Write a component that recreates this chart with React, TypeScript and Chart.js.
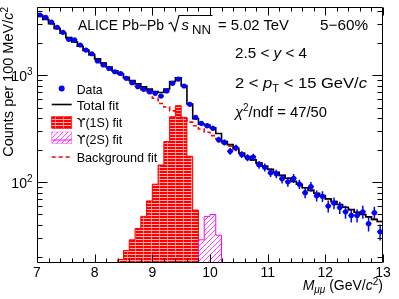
import React, { useEffect, useRef } from 'react';
import { Chart, registerables } from 'chart.js';

Chart.register(...registerables);

// ---------------- data ----------------
const BIN_WIDTH = 0.1;
const X_MIN = 7;
const X_MAX = 13;
const Y_MIN = 17.6;
const Y_MAX = 4350;

// dimuon mass bin centres (GeV/c^2), 7.05 ... 12.95
const MASS_BINS = Array.from({ length: 60 }, (_, i) => Math.round((7.05 + BIN_WIDTH * i) * 100) / 100);

const DATA_COUNTS = [
  3660, 3480, 3150, 2810, 2520, 2170, 2140, 1920, 1720, 1590,
  1360, 1250, 1160, 1080, 1040, 937, 853, 782, 740, 703,
  679, 640, 715, 842, 923, 794, 535, 404, 356, 338,
  320, 250, 236, 195, 210, 182, 170, 172, 146, 138,
  123, 120, 108, 101, 109, 96, 80, 91, 75, 74,
  60, 64, 58, 53, 49, 49, 53, 41, 52, 34.5,
];

const DATA_ERRORS = [
  60, 59, 56, 53, 50, 47, 46, 44, 41, 40,
  37, 35, 34, 33, 32, 31, 29, 28, 27, 27,
  26, 25, 27, 29, 30, 28, 23, 20, 19, 18,
  18, 16, 15, 14, 14.5, 13.5, 13, 13, 12, 11.7,
  11, 11, 10.4, 10, 10.4, 9.8, 8.9, 9.5, 8.7, 8.6,
  7.7, 8, 7.6, 7.3, 7, 7, 7.3, 6.4, 7.2, 5.9,
];

const BACKGROUND_FIT = [
  3620, 3330, 3030, 2740, 2480, 2250, 2050, 1870, 1710, 1560,
  1425, 1300, 1195, 1100, 1015, 935, 862, 794, 732, 675,
  610, 545, 505, 465, 430, 395, 365, 338, 315, 294,
  273, 254, 235, 217, 202, 187, 174, 162, 151, 141,
  132, 124, 116, 109, 102, 96, 89, 84, 79, 75,
  70, 66, 62, 58.5, 55.5, 52.5, 50, 47.5, 45, 43,
];

const TOTAL_FIT = [
  3620, 3330, 3030, 2740, 2480, 2250, 2050, 1870, 1710, 1560,
  1425, 1300, 1195, 1100, 1034, 958, 891, 831, 780, 742,
  706, 690, 745, 875, 950, 800, 540, 393, 350, 342,
  323, 286, 240, 225, 208, 187, 174, 162, 151, 141,
  132, 124, 116, 109, 102, 96, 89, 84, 79, 75,
  70, 66, 62, 58.5, 55.5, 52.5, 50, 47.5, 45, 43,
];

const UPS1S_BINS = [8.45, 8.55, 8.65, 8.75, 8.85, 8.95, 9.05, 9.15, 9.25, 9.35, 9.45, 9.55, 9.65, 9.75];
const UPS1S_COUNTS = [19, 23, 29, 37, 48, 67, 96, 145, 240, 410, 520, 405, 175, 55];

const UPS2S_BINS = [9.85, 9.95, 10.05, 10.15];
const UPS2S_COUNTS = [29, 48, 50, 32];

const X_TICKS = [7, 8, 9, 10, 11, 12, 13];
const X_MINOR_STEP = 0.2;
const Y_DECADES = [100, 1000];
const Y_DECADE_EXP = ['2', '3'];

const BLUE = '#0000ff';
const RED = '#ff0000';
const MAGENTA = '#ff00ff';
const FONT = '"Liberation Sans", Arial, Helvetica, sans-serif';
const GREEK_FONT = '"DejaVu Sans", "Liberation Sans", sans-serif';

function stepPoints(centers: number[], values: number[], closed: boolean) {
  const half = BIN_WIDTH / 2;
  const pts: { x: number; y: number }[] = [];
  if (closed) pts.push({ x: centers[0] - half, y: Y_MIN });
  centers.forEach((c, i) => pts.push({ x: c - half, y: values[i] }));
  const last = centers.length - 1;
  pts.push({ x: centers[last] + half, y: values[last] });
  if (closed) pts.push({ x: centers[last] + half, y: Y_MIN });
  return pts;
}

function makeGridPattern(ctx: CanvasRenderingContext2D) {
  const c = document.createElement('canvas');
  c.width = 8;
  c.height = 3;
  const g = c.getContext('2d')!;
  g.fillStyle = RED;
  g.fillRect(0, 0, 8, 3);
  g.fillStyle = 'rgba(255,255,255,0.7)';
  g.fillRect(0, 2, 8, 1);
  g.fillStyle = 'rgba(255,255,255,0.45)';
  g.fillRect(7, 0, 1, 2);
  return ctx.createPattern(c, 'repeat')!;
}

function makeHatchPattern(ctx: CanvasRenderingContext2D) {
  const c = document.createElement('canvas');
  c.width = 5;
  c.height = 5;
  const g = c.getContext('2d')!;
  g.strokeStyle = 'rgba(255,0,255,0.8)';
  g.lineWidth = 0.9;
  g.beginPath();
  g.moveTo(0, 5); g.lineTo(5, 0);
  g.moveTo(-1, 1); g.lineTo(1, -1);
  g.moveTo(4, 6); g.lineTo(6, 4);
  g.stroke();
  return ctx.createPattern(c, 'repeat')!;
}

const errorBarPlugin = {
  id: 'errorBars',
  beforeDatasetDraw(chart: any, args: any) {
    if (args.index !== 0) return;
    const { ctx, scales } = chart;
    const xs = scales.x, ys = scales.y;
    ctx.save();
    ctx.strokeStyle = BLUE;
    ctx.lineWidth = 1.5;
    MASS_BINS.forEach((m, i) => {
      const v = DATA_COUNTS[i], e = DATA_ERRORS[i];
      const px = xs.getPixelForValue(m);
      const py = ys.getPixelForValue(v);
      ctx.beginPath();
      ctx.moveTo(px, ys.getPixelForValue(v - e));
      ctx.lineTo(px, ys.getPixelForValue(v + e));
      ctx.moveTo(xs.getPixelForValue(m - BIN_WIDTH / 2), py);
      ctx.lineTo(xs.getPixelForValue(m + BIN_WIDTH / 2), py);
      ctx.stroke();
    });
    ctx.restore();
  },
};

const framePlugin = {
  id: 'frame',
  afterDatasetsDraw(chart: any) {
    const { ctx, chartArea: a, scales } = chart;
    const xs = scales.x, ys = scales.y;
    const L = a.left + 0.5, R = a.right - 0.5, T = a.top + 0.5, B = a.bottom - 0.5;
    ctx.save();
    ctx.strokeStyle = '#000';
    ctx.lineWidth = 1;
    ctx.beginPath();
    ctx.rect(L, T, R - L, B - T);
    const nx = Math.round((X_MAX - X_MIN) / X_MINOR_STEP);
    for (let k = 0; k <= nx; k++) {
      const v = X_MIN + k * X_MINOR_STEP;
      const px = Math.round(xs.getPixelForValue(v)) + 0.5;
      const len = k % 5 === 0 ? 8 : 4;
      ctx.moveTo(px, B); ctx.lineTo(px, B - len);
      ctx.moveTo(px, T); ctx.lineTo(px, T + len);
    }
    const yt: { v: number; major: boolean }[] = [];
    [10, 100, 1000].forEach((d) => {
      for (let k = 1; k <= 9; k++) {
        const v = k * d;
        if (v >= Y_MIN && v <= Y_MAX) yt.push({ v, major: k === 1 });
      }
    });
    yt.forEach(({ v, major }) => {
      const py = Math.round(ys.getPixelForValue(v)) + 0.5;
      const len = major ? 10 : 5;
      ctx.moveTo(L, py); ctx.lineTo(L + len, py);
      ctx.moveTo(R, py); ctx.lineTo(R - len, py);
    });
    ctx.stroke();

    ctx.fillStyle = '#000';
    ctx.font = `14px ${FONT}`;
    ctx.textAlign = 'center';
    ctx.textBaseline = 'alphabetic';
    X_TICKS.forEach((v) => {
      ctx.fillText(String(v), xs.getPixelForValue(v), a.bottom + 14);
    });
    Y_DECADES.forEach((v, i) => {
      const py = ys.getPixelForValue(v);
      ctx.font = `10px ${FONT}`;
      const ws = ctx.measureText(Y_DECADE_EXP[i]).width;
      const supX = a.left - 4.5 - ws;
      ctx.textAlign = 'left';
      ctx.fillText(Y_DECADE_EXP[i], supX, py - 0.5);
      ctx.font = `14px ${FONT}`;
      ctx.textAlign = 'right';
      ctx.fillText('10', supX, py + 6);
    });
    ctx.restore();
  },
};

export default function App() {
  const ref = useRef<HTMLCanvasElement>(null);

  useEffect(() => {
    const canvas = ref.current!;
    const ctx = canvas.getContext('2d')!;
    const grid = makeGridPattern(ctx);
    const hatch = makeHatchPattern(ctx);

    const chart = new Chart(ctx, {
      type: 'line',
      data: {
        datasets: [
          {
            label: 'Data',
            data: MASS_BINS.map((m, i) => ({ x: m, y: DATA_COUNTS[i] })),
            showLine: false,
            pointRadius: 2.6,
            pointBackgroundColor: BLUE,
            pointBorderWidth: 0,
            order: 0,
          } as any,
          {
            label: 'Total fit',
            data: stepPoints(MASS_BINS, TOTAL_FIT, false),
            borderColor: '#000',
            borderWidth: 1.6,
            stepped: 'before',
            pointRadius: 0,
            fill: false,
            order: 1,
          },
          {
            label: 'Background fit',
            data: stepPoints(MASS_BINS, BACKGROUND_FIT, false),
            borderColor: RED,
            borderWidth: 1.6,
            borderDash: [4, 3],
            stepped: 'before',
            pointRadius: 0,
            fill: false,
            order: 2,
          },
          {
            label: 'Upsilon(2S) fit',
            data: stepPoints(UPS2S_BINS, UPS2S_COUNTS, true),
            borderColor: MAGENTA,
            borderWidth: 1,
            backgroundColor: hatch,
            fill: 'start',
            stepped: 'before',
            pointRadius: 0,
            order: 3,
          },
          {
            label: 'Upsilon(1S) fit',
            data: stepPoints(UPS1S_BINS, UPS1S_COUNTS, true),
            borderColor: RED,
            borderWidth: 1,
            backgroundColor: grid,
            fill: 'start',
            stepped: 'before',
            pointRadius: 0,
            order: 4,
          },
        ],
      },
      options: {
        animation: false,
        responsive: false,
        devicePixelRatio: 1,
        layout: { padding: { left: 0, right: 16, top: 7, bottom: 0 } },
        plugins: { legend: { display: false }, tooltip: { enabled: false } },
        scales: {
          x: {
            type: 'linear',
            min: X_MIN,
            max: X_MAX,
            ticks: { display: false },
            grid: { display: false },
            border: { display: false },
            afterFit: (s: any) => { s.height = 36; },
          },
          y: {
            type: 'logarithmic',
            min: Y_MIN,
            max: Y_MAX,
            ticks: { display: false },
            grid: { display: false },
            border: { display: false },
            afterFit: (s: any) => { s.width = 37; },
          },
        },
      } as any,
      plugins: [errorBarPlugin, framePlugin],
    });
    return () => chart.destroy();
  }, []);

  return (
    <div style={{ position: 'fixed', left: 0, top: 0, width: 399, height: 299, background: '#fff', overflow: 'hidden' }}>
      <canvas ref={ref} width={399} height={299} style={{ position: 'absolute', left: 0, top: 0, width: 399, height: 299 }} />
      <svg width={399} height={299} style={{ position: 'absolute', left: 0, top: 0 }} fontFamily={FONT} fill="#000">
        <defs>
          <pattern id="redgrid" width={8} height={3} patternUnits="userSpaceOnUse">
            <rect width={8} height={3} fill={RED} />
            <rect y={2} width={8} height={1} fill="#fff" opacity={0.7} />
            <rect x={7} width={1} height={2} fill="#fff" opacity={0.45} />
          </pattern>
          <pattern id="maghatch" width={5} height={5} patternUnits="userSpaceOnUse">
            <path d="M0,5 L5,0 M-1,1 L1,-1 M4,6 L6,4" stroke={MAGENTA} strokeOpacity={0.8} strokeWidth={0.9} />
          </pattern>
        </defs>

        {/* header */}
        <text x={78} y={30} fontSize={15} textLength={86} lengthAdjust="spacingAndGlyphs">ALICE Pb−Pb</text>
        <path d="M168.5,24 L171,22.5 L174.8,31 L179,15.5 L212.5,15.5" fill="none" stroke="#000" strokeWidth={1.1} />
        <text x={181.5} y={30} fontSize={15} fontStyle="italic">s</text>
        <text x={192} y={33.5} fontSize={12} textLength={19} lengthAdjust="spacingAndGlyphs">NN</text>
        <text x={218} y={30} fontSize={15} textLength={71} lengthAdjust="spacingAndGlyphs">= 5.02 TeV</text>
        <text x={320} y={30} fontSize={15} textLength={48} lengthAdjust="spacingAndGlyphs">5−60%</text>

        <text x={235} y={58} fontSize={15} textLength={72} lengthAdjust="spacingAndGlyphs">
          {'2.5 < '}<tspan fontStyle="italic">y</tspan>{' < 4'}
        </text>
        <text x={235} y={88} fontSize={15} textLength={132} lengthAdjust="spacingAndGlyphs">
          {'2 < '}<tspan fontStyle="italic">p</tspan><tspan fontSize={10} dy={4}>T</tspan><tspan dy={-4}>{' < 15 GeV/'}</tspan><tspan fontStyle="italic">c</tspan>
        </text>
        <text x={235} y={117} fontSize={15} textLength={92} lengthAdjust="spacingAndGlyphs">
          <tspan fontStyle="italic">χ</tspan><tspan fontSize={10} dy={-6}>2</tspan><tspan dy={6}>/ndf = 47/50</tspan>
        </text>

        {/* legend */}
        <circle cx={61.7} cy={88.5} r={3} fill={BLUE} />
        <text x={76.7} y={93.5} fontSize={13} textLength={26} lengthAdjust="spacingAndGlyphs">Data</text>

        <line x1={51.7} x2={71.7} y1={104.5} y2={104.5} stroke="#000" strokeWidth={1.6} />
        <text x={76.7} y={109.5} fontSize={13} textLength={42.3} lengthAdjust="spacingAndGlyphs">Total fit</text>

        <rect x={51.7} y={116.7} width={20} height={11.6} fill="url(#redgrid)" stroke={RED} strokeWidth={0.8} />
        <text x={76.7} y={127} fontSize={13} textLength={45.6} lengthAdjust="spacingAndGlyphs">
          <tspan fontFamily={GREEK_FONT}>ϒ</tspan>(1S) fit
        </text>

        <rect x={51.7} y={132} width={20} height={11.6} fill="url(#maghatch)" stroke={MAGENTA} strokeWidth={0.6} strokeOpacity={0.6} />
        <line x1={51.7} x2={71.7} y1={140} y2={140} stroke={MAGENTA} strokeWidth={1} />
        <text x={76.7} y={144} fontSize={13} textLength={45.6} lengthAdjust="spacingAndGlyphs">
          <tspan fontFamily={GREEK_FONT}>ϒ</tspan>(2S) fit
        </text>

        <line x1={51.7} x2={71} y1={157} y2={157} stroke={RED} strokeWidth={1.6} strokeDasharray="4 3" />
        <text x={76.7} y={162} fontSize={13} textLength={80.6} lengthAdjust="spacingAndGlyphs">Background fit</text>

        {/* axis titles */}
        <text x={383} y={289.5} fontSize={14} textAnchor="end">
          <tspan fontStyle="italic">M</tspan><tspan fontSize={10} fontStyle="italic" dy={3}>μμ</tspan><tspan dy={-3}>{' (GeV/'}</tspan><tspan fontStyle="italic">c</tspan><tspan fontSize={10} dy={-5}>2</tspan><tspan dy={5}>)</tspan>
        </text>
        <text transform="translate(12.7,7) rotate(-90)" fontSize={14.5} textAnchor="end">
          {'Counts per 100 MeV/'}<tspan fontStyle="italic">c</tspan><tspan fontSize={10} dy={-5}>2</tspan>
        </text>
      </svg>
    </div>
  );
}
